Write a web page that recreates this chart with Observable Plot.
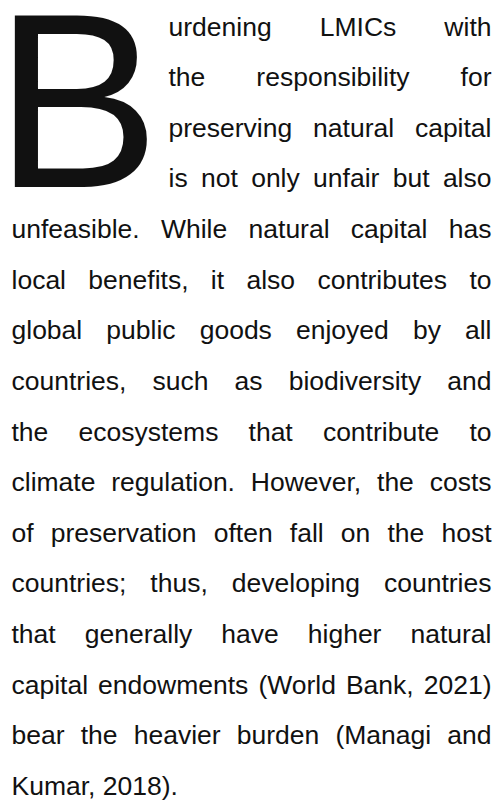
<!DOCTYPE html>
<html>
<head>
<meta charset="utf-8">
<script src="https://cdn.jsdelivr.net/npm/d3@7"></script>
<script src="https://cdn.jsdelivr.net/npm/@observablehq/plot@0.6"></script>
<style>
  html, body { margin: 0; padding: 0; background: #fff; }
  #chart svg { display: block; }
</style>
</head>
<body>
<div id="chart"></div>
<script>
// ---- content ----
const dropCap = "B";
const lines = [
  "urdening LMICs with",
  "the responsibility for",
  "preserving natural capital",
  "is not only unfair but also",
  "unfeasible. While natural capital has",
  "local benefits, it also contributes to",
  "global public goods enjoyed by all",
  "countries, such as biodiversity and",
  "the ecosystems that contribute to",
  "climate regulation. However, the costs",
  "of preservation often fall on the host",
  "countries; thus, developing countries",
  "that generally have higher natural",
  "capital endowments (World Bank, 2021)",
  "bear the heavier burden (Managi and",
  "Kumar, 2018)."
];

// ---- layout settings ----
const W = 499, H = 800;
const FONT = "'Liberation Sans', Arial, Helvetica, sans-serif";
const bodySize = 26.5;
const capSize = 248;
const capLines = 4;          // lines wrapped beside the drop cap
const colLeft = 11, colRight = 491, capIndent = 168;

const ctx = document.createElement("canvas").getContext("2d");
ctx.font = `${bodySize}px ${FONT}`;
const spaceW = ctx.measureText(" ").width;

// justified word layout, derived from measured text widths
const words = [];
lines.forEach((line, i) => {
  const ws = line.split(" ");
  const widths = ws.map(w => ctx.measureText(w).width);
  const left = i < capLines ? capIndent : colLeft;
  const total = d3.sum(widths);
  const last = i === lines.length - 1;
  const gap = (!last && ws.length > 1) ? (colRight - left - total) / (ws.length - 1) : spaceW;
  let x = left;
  ws.forEach((w, j) => {
    words.push({line: i, word: w, x});
    x += widths[j] + gap;
  });
});

const chart = Plot.plot({
  width: W,
  height: H,
  margin: 0,
  x: {type: "linear", domain: [0, W], range: [0, W], axis: null},
  y: {type: "linear", domain: [0, lines.length - 1], range: [35, 794.5], axis: null},
  style: {fontFamily: FONT, background: "#fff", color: "#111"},
  marks: [
    Plot.text([dropCap], {
      x: () => colLeft, y: () => capLines - 1, text: d => d,
      fontSize: capSize, textAnchor: "start", lineAnchor: "bottom",
      dx: -17, fill: "#111"
    }),
    Plot.text(words, {
      x: "x", y: "line", text: "word",
      fontSize: bodySize, textAnchor: "start", lineAnchor: "bottom",
      fill: "#111"
    })
  ]
});
document.getElementById("chart").append(chart);
</script>
</body>
</html>
